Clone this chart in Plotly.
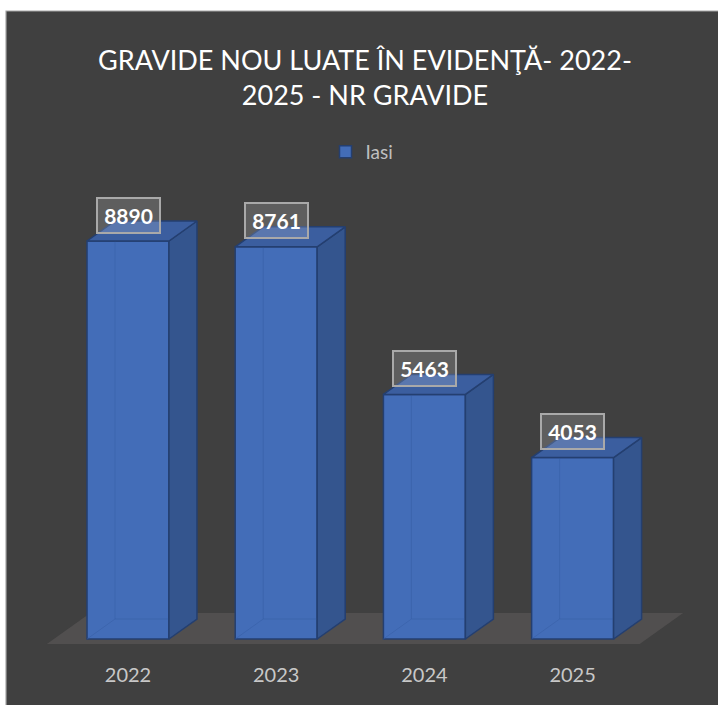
import plotly.graph_objects as go

# ---- data ----
years = ["2022", "2023", "2024", "2025"]
values = [8890, 8761, 5463, 4053]
series_name = "Iasi"
title_text = "GRAVIDE NOU LUATE ÎN EVIDENŢĂ- 2022-<br>2025 - NR GRAVIDE"

# ---- layout geometry (pixels) ----
W, H = 718, 705
ML, MR, MT, MB = 30, 18, 170, 47
plot_w = W - ML - MR
plot_h = H - MT - MB
cat_spacing_px = 148.2
first_cat_px = 128
zero_px = 639
units_per_px = 8890 / 398.0

x_min = -(first_cat_px - ML) / cat_spacing_px
x_max = x_min + plot_w / cat_spacing_px
y_min = -((H - MB) - zero_px) * units_per_px
y_max = (zero_px - MT) * units_per_px

BW = 0.553                     # bar width (category units)
DX = 28 / cat_spacing_px       # depth offset x
DY = 20 * units_per_px         # depth offset y

FRONT = "#436db8"
SIDE = "#34558e"
TOP = "#3b5e9f"
EDGE = "#243f70"
FLOOR = "#514f4f"
BG = "#404040"

xs = list(range(len(years)))

fig = go.Figure()

# front faces
fig.add_trace(go.Bar(
    x=xs, y=values, width=BW, name=series_name,
    marker=dict(color=FRONT, line=dict(color=EDGE, width=1.5)),
    showlegend=True, hoverinfo="skip",
))

# hidden edges seen through the slightly transparent bars
hx, hy = [], []
for i, v in zip(xs, values):
    l = i - BW / 2
    r = i + BW / 2
    hx += [l, l + DX, r + DX, None, l + DX, l + DX, None]
    hy += [0, DY, DY, None, DY, v + DY, None]
fig.add_trace(go.Scatter(x=hx, y=hy, mode="lines",
                         line=dict(color="rgba(55,95,165,0.55)", width=1),
                         showlegend=False, hoverinfo="skip"))

# side faces
sx, sy = [], []
for i, v in zip(xs, values):
    r = i + BW / 2
    sx += [r, r + DX, r + DX, r, r, None]
    sy += [0, DY, v + DY, v, 0, None]
fig.add_trace(go.Scatter(x=sx, y=sy, mode="lines", fill="toself",
                         fillcolor=SIDE, line=dict(color=EDGE, width=1.5),
                         showlegend=False, hoverinfo="skip"))

# top faces
tx, ty = [], []
for i, v in zip(xs, values):
    l = i - BW / 2
    r = i + BW / 2
    tx += [l, r, r + DX, l + DX, l, None]
    ty += [v, v, v + DY, v + DY, v, None]
fig.add_trace(go.Scatter(x=tx, y=ty, mode="lines", fill="toself",
                         fillcolor=TOP, line=dict(color=EDGE, width=1.5),
                         showlegend=False, hoverinfo="skip"))

# floor
f_front, f_back = -0.25, 1.3
fl, fr = xs[0] - 0.5, xs[-1] + 0.5
floor_path = (f"M {fl + f_front*DX},{f_front*DY} L {fr + f_front*DX},{f_front*DY} "
              f"L {fr + f_back*DX},{f_back*DY} L {fl + f_back*DX},{f_back*DY} Z")

shapes = [
    dict(type="rect", xref="paper", yref="paper",
         x0=(6 - ML) / plot_w, x1=(W + 20 - ML) / plot_w,
         y0=((H - MB) - (H + 20)) / plot_h, y1=((H - MB) - 11) / plot_h,
         fillcolor=BG, line=dict(color="#a6a6a6", width=1.2), layer="below"),
    dict(type="path", xref="x", yref="y", path=floor_path,
         fillcolor=FLOOR, line=dict(width=0), layer="below"),
]

# data labels
annotations = []
for i, v in zip(xs, values):
    annotations.append(dict(
        x=i, y=v, xref="x", yref="y", text=f"<b>{v}</b>", showarrow=False,
        yshift=26, font=dict(family="Lato", size=21, color="white"),
        bgcolor="rgba(255,255,255,0.16)", bordercolor="#a9a9a9", borderwidth=2,
        borderpad=0, width=61, height=33, align="center", valign="middle",
    ))

fig.update_layout(
    width=W, height=H,
    margin=dict(l=ML, r=MR, t=MT, b=MB, pad=0),
    paper_bgcolor="white", plot_bgcolor="rgba(0,0,0,0)",
    title=dict(text=title_text, x=365 / W, xref="container", xanchor="center",
               y=1 - 70 / H, yref="container", yanchor="middle",
               font=dict(family="Lato", size=27, color="white")),
    showlegend=True,
    legend=dict(orientation="h", x=(362 - ML) / plot_w, xanchor="center",
                y=((H - MB) - 152) / plot_h, yanchor="middle",
                font=dict(family="Lato", size=19, color="#bfbfbf"),
                bgcolor="rgba(0,0,0,0)", itemwidth=30),
    xaxis=dict(range=[x_min, x_max], tickvals=xs, ticktext=years,
               showgrid=False, zeroline=False, showline=False, ticks="",
               tickfont=dict(family="Lato", size=20, color="#c8c8c8"),
               ticklabelstandoff=3, fixedrange=True),
    yaxis=dict(range=[y_min, y_max], visible=False, showgrid=False,
               zeroline=False, fixedrange=True),
    shapes=shapes, annotations=annotations,
    bargap=0,
)

fig.write_html(
    "out.html",
    config={"displayModeBar": False, "staticPlot": True},
    post_script="document.body.style.margin='0';document.body.style.overflow='hidden';",
)
